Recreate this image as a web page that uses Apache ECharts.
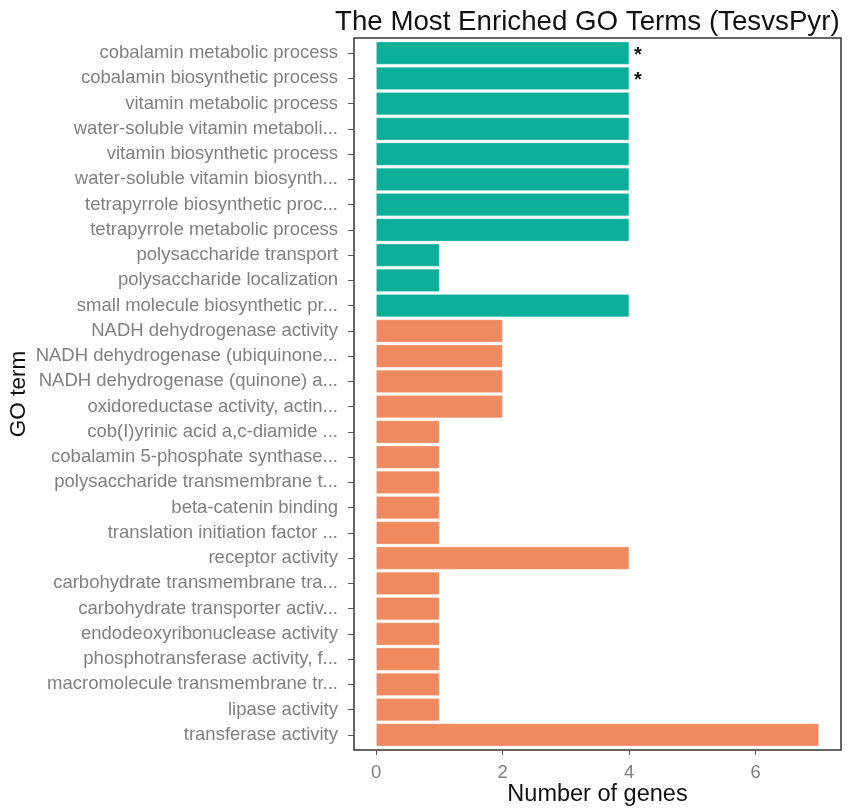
<!DOCTYPE html>
<html>
<head>
<meta charset="utf-8">
<script src="https://cdn.jsdelivr.net/npm/echarts@6/dist/echarts.min.js"></script>
<style>
  html, body { margin: 0; padding: 0; background: #fff; }
  #chart { width: 863px; height: 808px; }
</style>
</head>
<body>
<div id="chart"></div>
<script>
// GO terms, listed top to bottom
const terms = [
  'cobalamin metabolic process',
  'cobalamin biosynthetic process',
  'vitamin metabolic process',
  'water-soluble vitamin metaboli...',
  'vitamin biosynthetic process',
  'water-soluble vitamin biosynth...',
  'tetrapyrrole biosynthetic proc...',
  'tetrapyrrole metabolic process',
  'polysaccharide transport',
  'polysaccharide localization',
  'small molecule biosynthetic pr...',
  'NADH dehydrogenase activity',
  'NADH dehydrogenase (ubiquinone...',
  'NADH dehydrogenase (quinone) a...',
  'oxidoreductase activity, actin...',
  'cob(I)yrinic acid a,c-diamide ...',
  'cobalamin 5-phosphate synthase...',
  'polysaccharide transmembrane t...',
  'beta-catenin binding',
  'translation initiation factor ...',
  'receptor activity',
  'carbohydrate transmembrane tra...',
  'carbohydrate transporter activ...',
  'endodeoxyribonuclease activity',
  'phosphotransferase activity, f...',
  'macromolecule transmembrane tr...',
  'lipase activity',
  'transferase activity'
];
// Number of genes per term
const geneCounts = [4, 4, 4, 4, 4, 4, 4, 4, 1, 1, 4, 2, 2, 2, 2, 1, 1, 1, 1, 1, 4, 1, 1, 1, 1, 1, 1, 7];
// Ontology of each term
const ontology = ['BP','BP','BP','BP','BP','BP','BP','BP','BP','BP','BP',
                  'MF','MF','MF','MF','MF','MF','MF','MF','MF','MF','MF','MF','MF','MF','MF','MF','MF'];
// Significance marks
const signif = ['*', '*', '', '', '', '', '', '', '', '', '', '', '', '', '', '', '', '', '', '', '', '', '', '', '', '', '', ''];
// x-axis tick values
const xTicks = [0, 2, 4, 6];

const ontologyColor = { BP: '#0BAE98', MF: '#F1895F' };
const FONT = '"Liberation Sans", Arial, Helvetica, sans-serif';

const chart = echarts.init(document.getElementById('chart'), null, { renderer: 'canvas' });

const barData = geneCounts.map((v, i) => ({
  value: v,
  itemStyle: { color: ontologyColor[ontology[i]] },
  label: {
    show: signif[i] !== '',
    formatter: signif[i]
  }
}));

chart.setOption({
  animation: false,
  backgroundColor: '#ffffff',
  title: {
    text: 'The Most Enriched GO Terms (TesvsPyr)',
    left: 330,
    top: 3,
    textStyle: { fontFamily: FONT, fontSize: 27.7, fontWeight: 'normal', color: '#111' }
  },
  grid: [
    // panel frame
    { left: 354, right: 22, top: 38, bottom: 58, show: true, borderColor: '#333', borderWidth: 1.5,
      backgroundColor: 'transparent', containLabel: false, outerBoundsMode: 'none' },
    // data area (discrete expansion of 0.6 band at both ends)
    { left: 354, right: 22, top: 40.5, bottom: 60.5, containLabel: false, outerBoundsMode: 'none' }
  ],
  xAxis: [
    { gridIndex: 0, type: 'value', show: false, min: 0, max: 1 },
    {
      gridIndex: 1,
      type: 'value',
      min: -0.35,
      max: 7.35,
      offset: 2.5,
      name: 'Number of genes',
      nameLocation: 'middle',
      nameGap: 33,
      nameMoveOverlap: false,
      nameTextStyle: { fontFamily: FONT, fontSize: 23.5, color: '#111' },
      axisLine: { show: false, onZero: false },
      axisTick: { show: true, customValues: xTicks, length: 5, lineStyle: { color: '#555', width: 1 } },
      axisLabel: { customValues: xTicks, margin: 13.5, fontFamily: FONT, fontSize: 18.5, color: '#808080' },
      splitLine: { show: false }
    }
  ],
  yAxis: [
    { gridIndex: 0, type: 'value', show: false, min: 0, max: 1 },
    {
      gridIndex: 1,
      type: 'category',
      data: terms,
      inverse: true,
      name: 'GO term',
      nameLocation: 'middle',
      nameGap: 324,
      nameMoveOverlap: false,
      nameTextStyle: { fontFamily: FONT, fontSize: 22.5, color: '#111' },
      axisLine: { show: false, onZero: false },
      axisTick: { show: true, alignWithLabel: true, length: 6, lineStyle: { color: '#555', width: 1 } },
      axisLabel: { margin: 16, fontFamily: FONT, fontSize: 18.5, color: '#808080', interval: 0 },
      splitLine: { show: false }
    }
  ],
  series: [
    {
      type: 'bar',
      xAxisIndex: 1,
      yAxisIndex: 1,
      data: barData,
      barCategoryGap: '10%',
      itemStyle: { borderColor: 'rgba(255,255,255,0.35)', borderWidth: 0.6 },
      label: {
        position: 'right',
        distance: 5,
        offset: [0, 2],
        fontFamily: FONT,
        fontSize: 20,
        fontWeight: 'bold',
        color: '#111'
      }
    }
  ]
});
</script>
</body>
</html>
